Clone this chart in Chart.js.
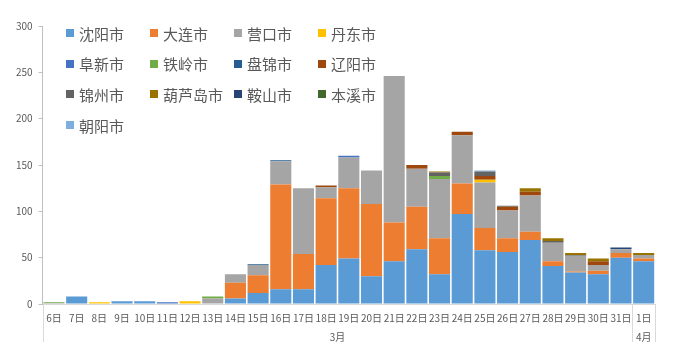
<!DOCTYPE html>
<html>
<head>
<meta charset="utf-8">
<script src="https://cdn.jsdelivr.net/npm/chart.js@4/dist/chart.umd.min.js"></script>
<style>
  body { margin: 0; background: #fff; }
  #wrap { position: relative; width: 677px; height: 352px; }
  #legend {
    position: absolute; left: 66px; top: 18px;
    display: grid; grid-template-columns: repeat(4, 84px); grid-auto-rows: 30.6px;
    font-family: "Noto Sans CJK SC", "Noto Sans", sans-serif; font-size: 15px; color: #595959;
  }
  #legend .item { display: flex; align-items: center; white-space: nowrap; }
  #legend .box { width: 8px; height: 8px; margin-right: 5px; flex: none; }
</style>
</head>
<body>
<div id="wrap">
  <canvas id="chart" width="677" height="352"></canvas>
  <div id="legend"></div>
</div>
<script>
const days = ['6日', '7日', '8日', '9日', '10日', '11日', '12日', '13日', '14日', '15日', '16日', '17日', '18日',
  '19日', '20日', '21日', '22日', '23日', '24日', '25日', '26日', '27日', '28日', '29日', '30日', '31日', '1日'];
const months = ['3月', '4月'];
const monthDays = [26, 1]; // how many day columns each month covers

const cities = ['沈阳市', '大连市', '营口市', '丹东市', '阜新市', '铁岭市', '盘锦市', '辽阳市',
  '锦州市', '葫芦岛市', '鞍山市', '本溪市', '朝阳市'];
const colors = ['#5b9bd5', '#ed7d31', '#a5a5a5', '#ffc000', '#4472c4', '#70ad47', '#255e91', '#9e480e',
  '#636363', '#997300', '#264478', '#43682b', '#7cafdd'];

// 6日 ... 31日, 1日
const shenyang = [0, 8, 0, 3, 3, 0, 0, 0, 6, 12, 16, 16, 42, 49, 30, 46, 59, 32, 97, 58, 56, 69, 41, 34, 32, 50, 46];
const dalian   = [0, 0, 0, 0, 0, 0, 0, 0, 17, 19, 113, 38, 72, 76, 78, 42, 46, 39, 33, 24, 15, 9, 5, 1, 4, 5, 3];
const yingkou  = [1, 0, 0, 0, 0, 0, 0, 6, 9, 11, 25, 71, 12, 33, 36, 158, 41, 64, 52, 49, 30, 39, 20, 17, 6, 4, 4];
const dandong  = [0, 0, 2, 0, 0, 0, 3, 0, 0, 0, 0, 0, 0, 0, 0, 0, 0, 0, 0, 3, 0, 0, 0, 0, 0, 0, 0];
const fuxin    = [0, 0, 0, 0, 0, 2, 0, 0, 0, 0, 0, 0, 0, 2, 0, 0, 0, 0, 0, 0, 0, 0, 0, 0, 0, 0, 0];
const tieling  = [1, 0, 0, 0, 0, 0, 0, 2, 0, 0, 0, 0, 0, 0, 0, 0, 0, 3, 0, 0, 0, 0, 0, 0, 0, 0, 0];
const panjin   = [0, 0, 0, 0, 0, 0, 0, 0, 0, 1, 1, 0, 0, 0, 0, 0, 0, 0, 0, 0, 0, 0, 0, 0, 0, 0, 0];
const liaoyang = [0, 0, 0, 0, 0, 0, 0, 0, 0, 0, 0, 0, 2, 0, 0, 0, 4, 0, 4, 4, 4, 4, 0, 0, 4, 0, 0];
const jinzhou  = [0, 0, 0, 0, 0, 0, 0, 0, 0, 0, 0, 0, 0, 0, 0, 0, 0, 4, 0, 5, 1, 0, 2, 1, 0, 0, 0];
const huludao  = [0, 0, 0, 0, 0, 0, 0, 0, 0, 0, 0, 0, 0, 0, 0, 0, 0, 1, 0, 0, 0, 4, 3, 2, 3, 0, 2];
const anshan   = [0, 0, 0, 0, 0, 0, 0, 0, 0, 0, 0, 0, 0, 0, 0, 0, 0, 0, 0, 0, 0, 0, 0, 0, 0, 2, 0];
const benxi    = [0, 0, 0, 0, 0, 0, 0, 0, 0, 0, 0, 0, 0, 0, 0, 0, 0, 0, 0, 0, 0, 0, 0, 0, 0, 0, 0];
const chaoyang = [0, 0, 0, 0, 0, 0, 0, 0, 0, 0, 0, 0, 0, 0, 0, 0, 0, 0, 0, 1, 0, 0, 0, 0, 0, 0, 0];

const series = [shenyang, dalian, yingkou, dandong, fuxin, tieling, panjin, liaoyang,
  jinzhou, huludao, anshan, benxi, chaoyang];

const font = 'Noto Sans CJK SC';
const textColor = '#595959';

// month row: half-day steps across the axis, month name at the middle of its days
const monthLabels = new Array(days.length * 2 + 1).fill('');
let start = 0;
monthDays.forEach((n, i) => {
    monthLabels[start * 2 + n] = months[i];
    start += n;
});

// legend as html so it can sit over the plot like the original
const legendEl = document.getElementById('legend');
cities.forEach((name, i) => {
    const item = document.createElement('div');
    item.className = 'item';
    item.innerHTML = '<span class="box" style="background:' + colors[i] + '"></span>' + name;
    legendEl.appendChild(item);
});

// vertical separators under the category axis (edges and month borders)
const separators = {
    id: 'separators',
    afterDraw(chart) {
        const {ctx, chartArea, scales: {x}} = chart;
        const half = (x.getPixelForValue(1) - x.getPixelForValue(0)) / 2;
        const xs = [x.left];
        let k = 0;
        monthDays.forEach(n => {
            k += n;
            xs.push(x.getPixelForValue(k - 1) + half);
        });
        ctx.save();
        ctx.strokeStyle = '#d9d9d9';
        ctx.lineWidth = 1;
        xs.forEach(px => {
            const p = Math.round(px) + 0.5;
            ctx.beginPath();
            ctx.moveTo(p, chartArea.bottom);
            ctx.lineTo(p, chartArea.bottom + 38);
            ctx.stroke();
        });
        ctx.restore();
    }
};

new Chart(document.getElementById('chart'), {
    type: 'bar',
    data: {
        labels: days,
        datasets: series.map((data, i) => ({
            label: cities[i],
            data: data,
            backgroundColor: colors[i],
            borderWidth: 0,
            categoryPercentage: 0.93,
            barPercentage: 1
        }))
    },
    options: {
        responsive: false,
        animation: false,
        layout: { padding: { left: 10, right: 22, top: 26, bottom: 10 } },
        plugins: {
            legend: { display: false },
            tooltip: { enabled: false }
        },
        scales: {
            x: {
                stacked: true,
                grid: { display: false, drawTicks: false },
                border: { display: true, color: '#d9d9d9' },
                ticks: {
                    color: textColor,
                    font: { family: font, size: 10, lineHeight: 1.2 },
                    padding: 8,
                    maxRotation: 0,
                    autoSkip: false
                }
            },
            x2: {
                type: 'category',
                labels: monthLabels,
                position: 'bottom',
                offset: false,
                grid: { display: false, drawTicks: false },
                border: { display: false },
                ticks: {
                    color: textColor,
                    font: { family: font, size: 10, lineHeight: 1.2 },
                    padding: -1,
                    maxRotation: 0,
                    autoSkip: false
                }
            },
            y: {
                stacked: true,
                min: 0,
                max: 300,
                grid: { display: true, drawOnChartArea: false, tickLength: 4, color: '#bfbfbf' },
                border: { display: true, color: '#bfbfbf' },
                ticks: {
                    stepSize: 50,
                    color: textColor,
                    font: { family: font, size: 10 },
                    padding: 6
                }
            }
        }
    },
    plugins: [separators]
});
</script>
</body>
</html>
